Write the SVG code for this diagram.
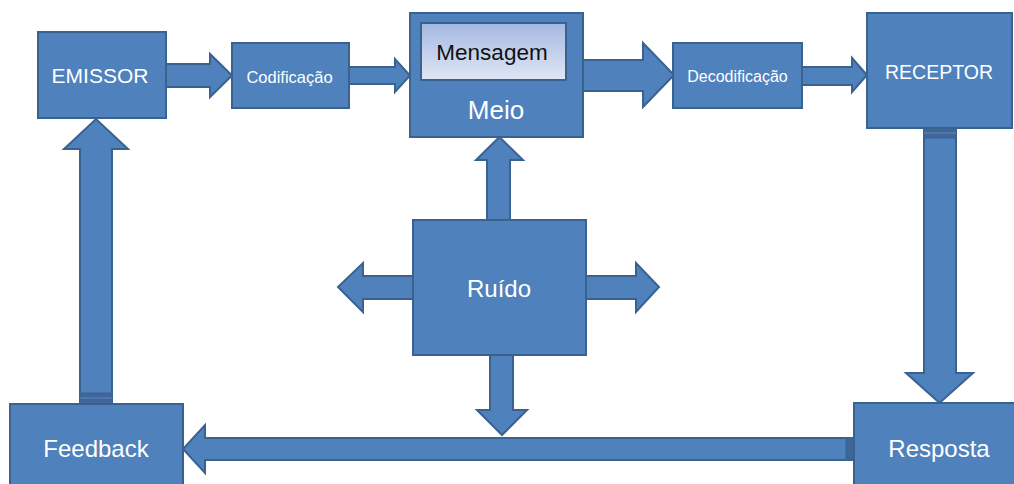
<svg xmlns="http://www.w3.org/2000/svg" width="1014" height="484" viewBox="0 0 1014 484">
<style>
.box{fill:#4f81bd;stroke:#3a6291;stroke-width:2}
.arr{fill:#4f81bd;stroke:#3a6291;stroke-width:2;stroke-linejoin:miter}
.band{fill:#3f6698;stroke:#3a6291;stroke-width:1}
.t{font-family:"Liberation Sans",Arial,sans-serif;fill:#ffffff;text-anchor:middle}
.dark{fill:#111111}
</style>
<defs>
<linearGradient id="msg" x1="0" y1="0" x2="0" y2="1">
<stop offset="0" stop-color="#a4b8e2"/>
<stop offset="1" stop-color="#e0e7f5"/>
</linearGradient>
</defs>
<rect width="1014" height="484" fill="#ffffff"/>
<g id="connectors">
<polygon class="arr" points="165,64 210,64 210,54 232,75.5 210,97 210,87 165,87"/>
<polygon class="arr" points="349,67 395,67 395,59 410,75.5 395,92 395,84 349,84"/>
<polygon class="arr" points="583,60 643,60 643,43 674,75 643,107 643,91 583,91"/>
<polygon class="arr" points="802,67 852,67 852,58 867,75 852,92 852,85 802,85"/>
<polygon class="arr" points="924,128 956,128 956,373 973,373 939.5,403 906,373 924,373"/>
<rect class="band" x="924" y="128" width="32" height="10"/>
<line x1="924" y1="133" x2="956" y2="133" stroke="#5a86bd" stroke-width="1"/>
<polygon class="arr" points="854,438 205,438 205,425 183,449 205,473 205,460 854,460"/>
<rect class="band" x="846" y="438" width="8" height="22"/>
<polygon class="arr" points="80,404 80,149 64,149 96,119 128,149 112,149 112,404"/>
<rect class="band" x="80" y="393" width="32" height="11"/>
<line x1="80" y1="398" x2="112" y2="398" stroke="#5a86bd" stroke-width="1"/>
<polygon class="arr" points="487,220 487,160 476,160 499.5,137 523,160 510,160 510,220"/>
<polygon class="arr" points="413,276 363,276 363,263 338,287 363,312 363,299 413,299"/>
<polygon class="arr" points="586,276 636,276 636,263 659,287 636,312 636,299 586,299"/>
<polygon class="arr" points="490,355 490,410 477,410 502,435 527,410 513,410 513,355"/>
</g>
<g id="emissor">
<rect class="box" x="38" y="32" width="128" height="86"/>
<text class="t" x="100" y="83" font-size="21">EMISSOR</text>
</g>
<g id="codificacao">
<rect class="box" x="232" y="43" width="117" height="65"/>
<text class="t" x="289.5" y="83" font-size="16.5">Codificação</text>
</g>
<g id="meio">
<rect class="box" x="410" y="13" width="173" height="124"/>
<rect x="421" y="23" width="145" height="57" fill="url(#msg)" stroke="#3a6291" stroke-width="2"/>
<text class="t dark" x="492" y="60" font-size="22.5">Mensagem</text>
<text class="t" x="496" y="119" font-size="26">Meio</text>
</g>
<g id="decodificacao">
<rect class="box" x="673" y="43" width="129" height="65"/>
<text class="t" x="737.5" y="82" font-size="16">Decodificação</text>
</g>
<g id="receptor">
<rect class="box" x="867" y="13" width="145" height="115"/>
<text class="t" x="939" y="79" font-size="19.5">RECEPTOR</text>
</g>
<g id="ruido">
<rect class="box" x="413" y="220" width="173" height="135"/>
<text class="t" x="499" y="297" font-size="24">Ruído</text>
</g>
<g id="feedback">
<rect class="box" x="10" y="404" width="173" height="90"/>
<text class="t" x="96" y="457" font-size="24">Feedback</text>
</g>
<g id="resposta">
<rect class="box" x="854" y="403" width="170" height="91"/>
<text class="t" x="939" y="457" font-size="24">Resposta</text>
</g>
</svg>
